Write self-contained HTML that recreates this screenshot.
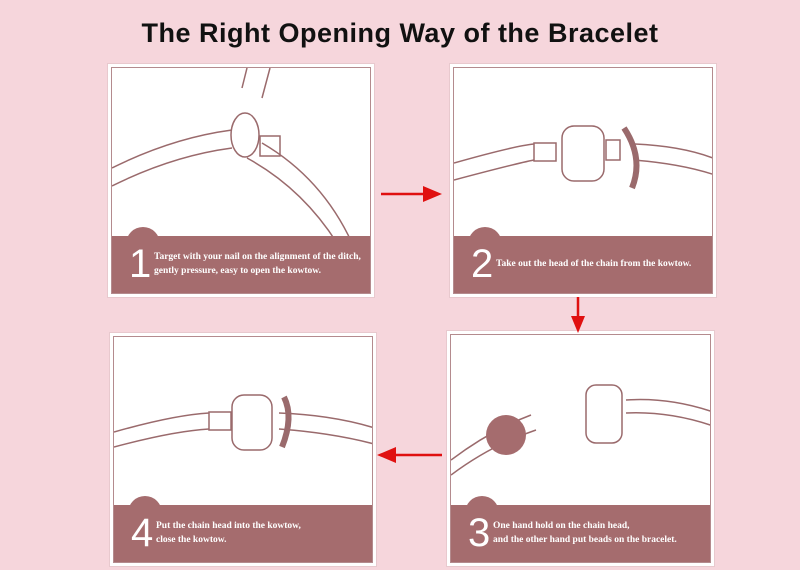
<!DOCTYPE html>
<html><head><meta charset="utf-8"><style>
body{margin:0;width:800px;height:570px;overflow:hidden;background:#f6d6dc;font-family:"Liberation Serif",serif;position:relative}
.t{position:absolute;left:0;width:800px;top:18px;text-align:center;font-family:"Liberation Sans",sans-serif;font-weight:bold;font-size:27px;color:#111;letter-spacing:.5px}
.p{position:absolute;background:#fff;box-sizing:border-box;border:3px solid #fff;outline:1px solid #e8c9ce}
.in{position:absolute;inset:0;border:1px solid #b48b8e;overflow:hidden}
.band{position:absolute;left:0;right:0;bottom:0;height:57px;background:#a56c6e}
.bump{position:absolute;left:14px;top:-9px;width:34px;height:20px;border-radius:17px 17px 0 0;background:#a56c6e}
.n{position:absolute;left:17px;top:6px;font-family:"Liberation Sans",sans-serif;font-size:40px;color:#fff;font-weight:300;line-height:44px}
.tx{position:absolute;left:42px;color:#fff;font-size:9.5px;font-weight:bold;line-height:14px;white-space:nowrap}
svg{position:absolute;left:0;top:0}
</style></head><body>
<div class="t">The Right Opening Way of the Bracelet</div>

<div class="p" style="left:108px;top:64px;width:266px;height:233px"><div class="in">
<svg width="264" height="231"><g fill="none" stroke="#9a6a6c" stroke-width="1.5">
<path d="M0 100 Q60 70 120 62 M0 118 Q60 88 120 80"/>
<path d="M135 90 Q190 120 225 175 M150 75 Q210 110 240 175"/>
<path d="M130 20 L135 0 M150 30 L158 0"/><ellipse cx="133" cy="67" rx="14" ry="22"/><rect x="148" y="68" width="20" height="20"/></g></svg>
<div class="band"><div class="bump"></div><div class="n">1</div><div class="tx" style="top:14px">Target with your nail on the alignment of the ditch,<br>gently pressure, easy to open the kowtow.</div></div></div></div>

<div class="p" style="left:450px;top:64px;width:266px;height:233px"><div class="in">
<svg width="264" height="231"><g fill="none" stroke="#9a6a6c" stroke-width="1.5">
<path d="M0 95 Q60 78 80 76 M0 112 Q60 96 80 92 M180 76 Q230 78 264 92 M180 92 Q230 96 264 108"/>
<rect x="80" y="75" width="22" height="18"/><rect x="108" y="58" width="42" height="55" rx="12"/><rect x="152" y="72" width="14" height="20"/></g>
<path d="M170 60 Q190 90 178 120" stroke="#9a6a6c" stroke-width="6" fill="none"/></svg>
<div class="band"><div class="bump"></div><div class="n">2</div><div class="tx" style="top:21px">Take out the head of the chain from the kowtow.</div></div></div></div>

<div class="p" style="left:447px;top:331px;width:267px;height:235px"><div class="in">
<svg width="265" height="233"><g fill="none" stroke="#9a6a6c" stroke-width="1.5">
<path d="M0 125 Q40 95 80 80 M0 140 Q40 110 85 95"/><rect x="135" y="50" width="36" height="58" rx="10"/>
<path d="M175 65 Q220 62 265 78 M175 78 Q220 76 265 92"/></g>
<circle cx="55" cy="100" r="20" fill="#a56c6e"/></svg>
<div class="band"><div class="bump"></div><div class="n">3</div><div class="tx" style="top:14px">One hand hold on the chain head,<br>and the other hand put beads on the bracelet.</div></div></div></div>

<div class="p" style="left:110px;top:333px;width:266px;height:233px"><div class="in">
<svg width="264" height="231"><g fill="none" stroke="#9a6a6c" stroke-width="1.5">
<path d="M0 95 Q60 78 95 76 M0 110 Q60 94 95 92 M165 76 Q220 78 264 92 M165 92 Q220 96 264 108"/>
<rect x="95" y="75" width="22" height="18"/><rect x="118" y="58" width="40" height="55" rx="12"/></g>
<path d="M168 110 Q180 80 170 60" stroke="#9a6a6c" stroke-width="6" fill="none"/></svg>
<div class="band"><div class="bump"></div><div class="n">4</div><div class="tx" style="top:14px">Put the chain head into the kowtow,<br>close the kowtow.</div></div></div></div>

<svg width="800" height="570" style="pointer-events:none"><g fill="#e01010" stroke="#e01010" stroke-width="2.5">
<line x1="381" y1="194" x2="425" y2="194"/><polygon points="423,186 442,194 423,202" stroke="none"/>
<line x1="578" y1="297" x2="578" y2="318"/><polygon points="571,316 578,333 585,316" stroke="none"/>
<line x1="442" y1="455" x2="395" y2="455"/><polygon points="396,447 377,455 396,463" stroke="none"/></g></svg>
</body></html>
